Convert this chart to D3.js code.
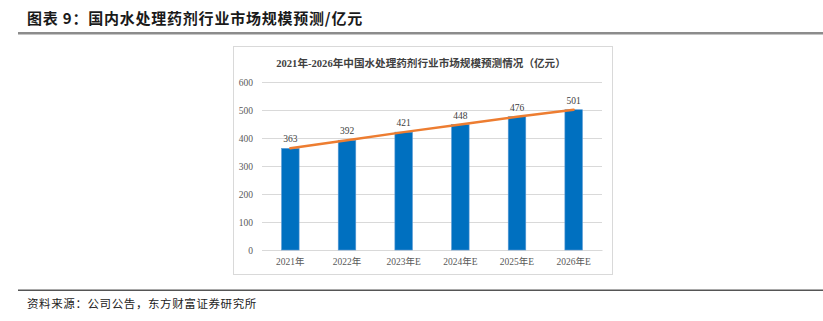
<!DOCTYPE html>
<html><head><meta charset="utf-8">
<script src="https://cdn.jsdelivr.net/npm/d3@7/dist/d3.min.js"></script>
<style>
html,body{margin:0;padding:0;background:#fff;}
svg{display:block;}
</style></head>
<body>
<svg id="c" width="823" height="321"></svg>
<script>
const categories = ["2021年","2022年","2023年E","2024年E","2025年E","2026年E"];
const values = [363, 392, 421, 448, 476, 501];
const yTicks = [0, 100, 200, 300, 400, 500, 600];
const headerTitle = "图表 9：国内水处理药剂行业市场规模预测/亿元";
const chartTitle = "2021年-2026年中国水处理药剂行业市场规模预测情况（亿元）";
const sourceText = "资料来源：公司公告，东方财富证券研究所";

const svg = d3.select("#c");
const serif = "'Liberation Serif','Times New Roman','Noto Sans CJK SC',serif";
const cjk = "'Noto Sans CJK SC','Noto Sans',sans-serif";

// header
svg.append("text").attr("x", 27).attr("y", 24)
  .attr("font-family", cjk).attr("font-weight", "bold").attr("font-size", 15)
  .attr("letter-spacing", 0.78).attr("fill", "#1a1a1a").text(headerTitle);
svg.append("rect").attr("x", 18).attr("y", 32).attr("width", 805).attr("height", 2.5).attr("fill", "#8c8c8c");
svg.append("rect").attr("x", 18).attr("y", 289.5).attr("width", 805).attr("height", 1.5).attr("fill", "#555");
svg.append("text").attr("x", 27).attr("y", 308)
  .attr("font-family", cjk).attr("font-size", 11.5).attr("letter-spacing", 0.6)
  .attr("fill", "#222").text(sourceText);

// chart box
svg.append("rect").attr("x", 233.5).attr("y", 46.5).attr("width", 379).attr("height", 228)
  .attr("fill", "#fff").attr("stroke", "#d9d9d9").attr("stroke-width", 1);
svg.append("text").attr("x", 421).attr("y", 66.5).attr("text-anchor", "middle")
  .attr("font-family", serif).attr("font-weight", "bold").attr("font-size", 10.6)
  .attr("fill", "#404040").text(chartTitle);

const x = d3.scaleBand().domain(categories).range([262, 602]).paddingInner(0.69).paddingOuter(0.345);
const y = d3.scaleLinear().domain([0, 600]).range([250, 82]);

const yAxis = d3.axisLeft(y).tickValues(yTicks).tickSize(-(602 - 262)).tickPadding(9);
const gy = svg.append("g").attr("transform", "translate(262,0)").call(yAxis);
gy.select(".domain").remove();
gy.selectAll(".tick line").attr("stroke", "#d9d9d9").attr("stroke-width", 1);
gy.selectAll(".tick text").attr("font-family", serif).attr("font-size", 9.5).attr("fill", "#595959");

const xAxis = d3.axisBottom(x).tickSize(0).tickPadding(8);
const gx = svg.append("g").attr("transform", "translate(0,250)").call(xAxis);
gx.select(".domain").attr("stroke", "#d9d9d9");
gx.selectAll(".tick text").attr("font-family", serif).attr("font-size", 9.5).attr("fill", "#595959");

const data = categories.map((c, i) => ({c, v: values[i]}));
svg.append("g").selectAll("rect").data(data).join("rect")
  .attr("x", d => x(d.c)).attr("y", d => y(d.v))
  .attr("width", x.bandwidth()).attr("height", d => y(0) - y(d.v))
  .attr("fill", "#0070c0").attr("stroke", "#5b9bd5").attr("stroke-width", 0.6);

svg.append("g").selectAll("text").data(data).join("text")
  .attr("x", d => x(d.c) + x.bandwidth() / 2).attr("y", d => y(d.v) - 6)
  .attr("text-anchor", "middle").attr("font-family", serif).attr("font-size", 9.5)
  .attr("fill", "#404040").text(d => d.v);

const line = d3.line().x(d => x(d.c) + x.bandwidth() / 2).y(d => y(d.v));
svg.append("path").datum(data).attr("d", line).attr("fill", "none")
  .attr("stroke", "#ed7d31").attr("stroke-width", 2.5).attr("stroke-linecap", "round");
</script>
</body></html>
